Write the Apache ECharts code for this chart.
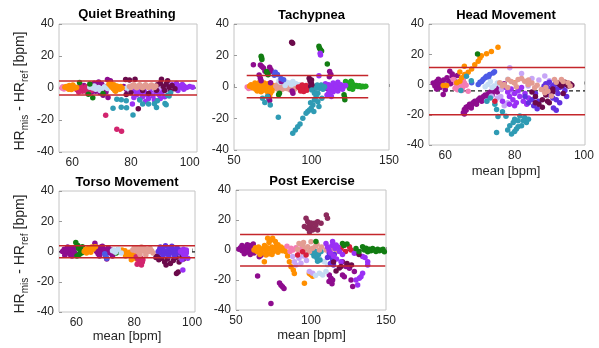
<!DOCTYPE html>
<html><head><meta charset="utf-8">
<script src="https://cdn.jsdelivr.net/npm/echarts@6/dist/echarts.min.js"></script>
<style>html,body{margin:0;padding:0;background:#fff}#c{width:599px;height:348px}</style>
</head><body><div id="c"></div>
<script>
const panelTitles = ['Quiet Breathing', 'Tachypnea', 'Head Movement', 'Torso Movement', 'Post Exercise'];
const xMin = [55.5, 50, 55.3, 54, 50];
const xMax = [102.5, 150, 100.3, 101, 150];
const xTicks = [[60, 80, 100], [50, 100, 150], [60, 80, 100], [60, 80, 100], [50, 100, 150]];
const yTicks = [-40, -20, 0, 20, 40];
const loaUpper = [4.4, 7.3, 11.2, 3.8, 10.4];
const loaLower = [-4.3, -6.9, -20.0, -4.1, -10.6];
const biasLine = [0.0, 0.2, -4.2, -0.2, -0.1];
const lineStart = [55.5, 58.2, 55.3, 54, 52.7];
const lineEnd = [102.5, 136.6, 100.3, 101, 149.5];

const subjectColors = {
  P: '#8E0C8E', O: '#FF8F00', C: '#D2246E', K: '#F47CB4', L: '#C4DCF4', T: '#2F9BB4',
  M: '#6B0A4B', W: '#8C2A5C', V: '#9A30F5', I: '#6230E0', B: '#4C5AE6', G: '#127D12',
  g: '#1FA51F', S: '#E39C92', A: '#C7A6F6', R: '#D81E3E'
};

const quietBreathing = [
 [57,0,'P'],[60.3,0.7,'P'],[66.5,2,'P'],[67.5,3,'P'],[68.5,1,'P'],[69,3.8,'P'],[70,2.5,'P'],[71,1,'P'],[72,5.3,'P'],[73,4.5,'P'],[70.5,-4.5,'P'],[72.2,-6,'P'],[68,-2,'P'],[69.5,-3,'P'],[71.5,-2.5,'P'],[66.6,-2.5,'P'],[67.5,-1,'P'],[77.5,1,'P'],[78.5,-1,'P'],[64,1.5,'P'],[62,0.5,'P'],
 [61,0,'C'],[61.5,-1,'C'],[62,-1.5,'C'],[62.5,0.5,'C'],[63,-1,'C'],[63.5,-2,'C'],[64,-0.5,'C'],[64.5,-1.5,'C'],[65,-2.5,'C'],[65.5,-1,'C'],[66,0,'C'],[66.5,-1.5,'C'],[63,1,'C'],[64.8,0.8,'C'],[62.2,-2.5,'C'],[71.4,-17,'C'],[75.2,-25.8,'C'],[76.8,-27,'C'],
 [56.5,0,'K'],[57.2,-0.6,'K'],[56.8,0.8,'K'],
 [66,0.5,'L'],[67,0,'L'],[68,-0.8,'L'],[69,0.3,'L'],[70,-0.5,'L'],[71,0.8,'L'],[72,-0.3,'L'],[67.5,1.2,'L'],[69.5,-1.5,'L'],[78.5,0,'L'],[79.5,-1,'L'],
 [57.5,0.5,'O'],[58,1,'O'],[58.5,0,'O'],[59,1.5,'O'],[59.5,0.5,'O'],[60,-0.5,'O'],[60.5,1,'O'],[61,0,'O'],[58.8,-0.8,'O'],[60.2,1.8,'O'],[61.5,0.3,'O'],[59.7,-1,'O'],
 [72.5,2.5,'O'],[73,1.5,'O'],[73.5,0.5,'O'],[74,-0.5,'O'],[74.5,-1.5,'O'],[75,-1,'O'],[75.5,0,'O'],[76,0.5,'O'],[76.5,1,'O'],[77,0,'O'],[73.2,3,'O'],[74.2,2,'O'],[75.2,1.2,'O'],[76.2,-0.8,'O'],[74.8,-2,'O'],
 [62.5,3.4,'G'],[65.5,-3.9,'G'],[67,-6.1,'G'],[70.5,-3.5,'G'],[66,2.5,'G'],
 [80.5,-1,'V'],[81.5,-2,'V'],[82.5,-1.5,'V'],[83.5,-3,'V'],[84.5,-2,'V'],[85.5,-4,'V'],[86.5,-3,'V'],[87.5,-5,'V'],[88.5,-2.5,'V'],[89.5,-4,'V'],[90.5,-3,'V'],[91.5,-5.5,'V'],[82,-4,'V'],[84,-5.5,'V'],[86,-6.5,'V'],[88,-7.5,'V'],[90,-6.5,'V'],[81,-6,'V'],[83,-7,'V'],[85,-8.5,'V'],[87,-1,'V'],[89,-1,'V'],[91,-0.5,'V'],[92.5,0.5,'V'],[80.5,-10,'V'],
 [93,1,'V'],[94,2,'V'],[95,0.5,'V'],[96,1.5,'V'],[97,0.5,'V'],[98,1.2,'V'],[99,0.3,'V'],[100,1,'V'],[101,0.5,'V'],[95.5,2.8,'V'],[97.5,2.2,'V'],[93.5,-1,'V'],[96,-1.5,'V'],[98,-0.8,'V'],
 [86,0.5,'A'],[88,-0.5,'A'],[90,0.8,'A'],[92,-1,'A'],[94,-0.5,'A'],
 [78.2,5.3,'M'],[79.5,5,'M'],[81.4,5.5,'M'],[78.4,-4,'M'],[80,-3,'M'],[89,2,'M'],[90,3,'M'],[91,1,'M'],[92,2.5,'M'],[93,0.5,'M'],[94,1.5,'M'],[95,-0.5,'M'],[91.5,-1.5,'M'],[93.5,-2,'M'],[90.4,5.4,'M'],[92.5,4.5,'M'],[84,-1.5,'M'],[86,-3.5,'M'],[88.7,-1.4,'M'],[82.5,-12.9,'M'],
 [79.5,1,'S'],[80.5,1.5,'S'],[81.5,0.8,'S'],[82.5,1.3,'S'],[83.5,0.7,'S'],[84.5,1.2,'S'],[85.5,0.8,'S'],[86.5,1.3,'S'],[87.5,0.7,'S'],[88.5,1.2,'S'],[80,0.3,'S'],[82,0.2,'S'],[84,0.2,'S'],[86,0.3,'S'],[88,0.3,'S'],[81,2,'S'],[83,2,'S'],[85,2,'S'],[87,1.9,'S'],
 [75.2,-7,'T'],[76.7,-7.3,'T'],[73.9,-12.6,'T'],[76.7,-12,'T'],[78.5,-12.3,'T'],[80.7,-16.8,'T'],[78.4,-8,'T'],[83,-7.5,'T'],[84,-10,'T'],[88,-9.8,'T'],[89,-8,'T'],[91.6,-9.7,'T'],[92.5,-4.5,'T'],[92,-10.5,'T'],[93,-5,'T'],[88.7,-12.2,'T'],[86,-10,'T'],[93.5,-3,'T']
];

const tachypnea = [
 [58.5,0,'K'],[59.5,-1,'K'],[60.5,1,'K'],[61.5,-0.5,'K'],[62,0.5,'K'],
 [60,0.5,'O'],[61,1.5,'O'],[62,-0.5,'O'],[63,1,'O'],[64,-1.5,'O'],[65,0.5,'O'],[66,-1,'O'],[67,1.5,'O'],[68,0,'O'],[69,-2,'O'],[70,1,'O'],[71,-0.5,'O'],[72,2,'O'],[73,0,'O'],[74,-1,'O'],[75,1,'O'],[76,-0.5,'O'],[77,0.5,'O'],[63.5,2.5,'O'],[66.5,3,'O'],[69.5,2.5,'O'],[71.5,-3,'O'],[73.5,-4,'O'],[67.5,-3,'O'],[65,-2.5,'O'],[70,-1.5,'O'],[72,-5.5,'O'],[73,-6,'O'],[74.5,-2.5,'O'],
 [77,0.5,'S'],[78,1.5,'S'],[79,-0.5,'S'],[80,1,'S'],[81,-1.5,'S'],[82,0.5,'S'],[83,2,'S'],[84,-1,'S'],[85,0.5,'S'],[86,1.5,'S'],[87,-0.5,'S'],[88,1,'S'],[89,-1.5,'S'],[90,0.5,'S'],[91,0,'S'],[80,-2,'S'],[84,2.5,'S'],[88,-2.3,'S'],[82,-1,'S'],[86,-1.8,'S'],[79.5,2.2,'S'],[78,-1.2,'S'],
 [80,3,'L'],[82,4,'L'],[84,3,'L'],[86,2.5,'L'],[88,3.5,'L'],[90,2,'L'],[92,1.5,'L'],[83,1,'L'],[87,1.5,'L'],[79,3.8,'L'],
 [91.5,0,'R'],[92.5,-1,'R'],[93.5,0.5,'R'],[94.5,-1.5,'R'],[95.5,-0.5,'R'],[96.5,1,'R'],[97.5,-1,'R'],[98.5,0,'R'],[93,-2.5,'R'],[95,-2.8,'R'],[97,-2,'R'],[94,1.3,'R'],
 [98.5,5.5,'M'],[99,4,'M'],[99.5,3,'M'],[100,2,'M'],[100.5,1,'M'],[101,0,'M'],[101.5,-0.8,'M'],[99.5,0.5,'M'],[100,4.5,'M'],[87.2,28.4,'M'],[87.8,27.7,'M'],
 [62.5,14.2,'P'],[67,14,'P'],[68,13,'P'],[69,12,'P'],[70,10,'P'],[66.2,7.6,'P'],[67,5.5,'P'],[67.5,4,'P'],[72,-6,'P'],[72.5,-7.5,'P'],[73,-8.5,'P'],[73,12.5,'P'],[73.8,11,'P'],[74,10,'P'],[73.6,2.7,'P'],[80.5,3.5,'P'],[88,-4,'P'],[87.5,-2.5,'P'],[111.7,9.8,'P'],[112.5,8,'P'],[111.5,6.5,'P'],[109,0.5,'P'],[110,-1,'P'],
 [67.5,19.5,'G'],[67.8,18.5,'G'],[68,17.5,'G'],[71,9.9,'G'],[71.5,8.8,'G'],[72,7.7,'G'],[78.8,-4.9,'G'],[79.3,-4,'G'],[104.8,25.8,'G'],[105.2,24.6,'G'],[105.8,23.7,'G'],[106.5,22.8,'G'],[110.2,14.6,'G'],[121,-4.9,'G'],[121.3,-6.5,'G'],[121.5,-8.1,'G'],
 [123,1,'g'],[124,2.5,'g'],[125,0,'g'],[126,3,'g'],[127,1.5,'g'],[128,0.5,'g'],[129,1,'g'],[130,0.3,'g'],[131,0.8,'g'],[132,0,'g'],[133,0.5,'g'],[134,0.2,'g'],[135,0.4,'g'],[124.5,-1,'g'],[126.5,-1.5,'g'],[122,3.5,'g'],[125.5,3.7,'g'],
 [106,1,'V'],[107,-1,'V'],[108,0.5,'V'],[109,2,'V'],[110,-0.5,'V'],[111,1.5,'V'],[112,-2,'V'],[113,0.5,'V'],[114,2.5,'V'],[115,-1,'V'],[116,1,'V'],[117,3,'V'],[118,-0.5,'V'],[119,1.5,'V'],[120,-1.5,'V'],[121,0.5,'V'],[122,1,'V'],[114,-3,'V'],[117,-2.5,'V'],[105.8,20.3,'V'],[105.6,21.5,'V'],[104.8,7.2,'V'],[112.8,-6,'V'],[110,-5,'V'],[111,-4,'V'],
 [76.6,9.3,'B'],[78,8,'B'],[80.3,5.4,'B'],[82,4.6,'B'],[76,7.5,'B'],
 [87.9,-29.4,'T'],[89.6,-27.3,'T'],[91.1,-25.2,'T'],[92.6,-23.5,'T'],[94.4,-19.9,'T'],[96.5,-16.7,'T'],[97.6,-15.6,'T'],[98.7,-14.6,'T'],[99.8,-13.5,'T'],[100.9,-11.4,'T'],[101.9,-8.2,'T'],[103,-6.1,'T'],[104.1,-4,'T'],[105.2,-0.8,'T'],[106.3,1.3,'T'],[107.4,-1.5,'T'],[104.1,-9.3,'T'],[106.7,-7.2,'T'],[101.9,-4,'T'],[103,-0.8,'T'],[103.7,1.3,'T'],[108.4,0.2,'T'],[100.2,-1.9,'T'],[101.5,-15.6,'T'],[99.4,-10,'T'],[104.8,-12.4,'T'],
 [71.6,-6.1,'T'],[69.9,-9.9,'T'],[73.4,-11.4,'T'],[68.4,-7.2,'T'],[78.6,-19.2,'T']
];

const headMovement = [
 [56.5,1,'P'],[57,-1,'P'],[57.5,2,'P'],[58,0,'P'],[58.5,-2,'P'],[59,1.5,'P'],[59.5,3,'P'],[60,-1,'P'],[60.5,4.5,'P'],[61,2,'P'],[61.5,0.5,'P'],[62,5.5,'P'],[62.5,3,'P'],[63,1,'P'],[58,3.5,'P'],[59.4,-6.6,'P'],[61.3,8.7,'P'],[62,7,'P'],[63.5,6,'P'],[60,-3.5,'P'],[57.5,-3,'P'],
 [65.2,-18.6,'P'],[65.5,-16.5,'P'],[66,-15,'P'],[66.5,-14.5,'P'],[67,-13,'P'],[67.5,-14,'P'],[68,-12,'P'],[68.5,-11,'P'],[69,-11.5,'P'],[69.5,-10,'P'],[70,-9,'P'],[70.5,-9.5,'P'],[71,-8,'P'],[71.5,-7,'P'],[72,-7.5,'P'],[72.5,-6,'P'],[73,-5,'P'],[73.5,-5.5,'P'],[74,-4,'P'],[74.5,-3,'P'],[75,-3.5,'P'],[75.5,-2,'P'],[76,-1,'P'],[76.5,-1.5,'P'],[77,0.5,'P'],[66,-17,'P'],[67.5,-15.5,'P'],[69,-13,'P'],[70.5,-11,'P'],[72,-9,'P'],[73.5,-7,'P'],[75,-5,'P'],[65.5,-19.5,'P'],
 [62.3,3.3,'K'],[63,1,'K'],[63.5,-1,'K'],[64,2,'K'],[64.5,0,'K'],[65,-2,'K'],[65.5,1,'K'],[66,-0.5,'K'],[66.6,-4.4,'K'],[63.5,-3.5,'K'],[64.8,-4,'K'],[62.8,-2.5,'K'],[65.2,3,'K'],
 [75.2,24.7,'O'],[73.3,21.9,'O'],[71.9,20.3,'O'],[70.4,19,'O'],[70,17.5,'O'],[69.5,15.3,'O'],[68.5,13.1,'O'],[67.6,10.3,'O'],[66.6,8.1,'O'],[65.6,6.6,'O'],[64.7,4.4,'O'],[64.2,2.2,'O'],[63.3,1.1,'O'],[60.4,-0.6,'O'],[59.4,-0.6,'O'],[80,1.1,'O'],[65.5,12,'O'],[64.2,8.3,'O'],
 [69.3,20.1,'G'],
 [67.6,1.1,'B'],[69.5,0,'B'],[70,1.5,'B'],[70.9,3.3,'B'],[71.9,5.5,'B'],[72.8,6.6,'B'],[73.8,7.6,'B'],[74.2,8.5,'B'],[71.5,4.5,'B'],[72.5,5,'B'],[70.5,2,'B'],
 [72.3,0,'L'],[73,2,'L'],[74,-1,'L'],[75,1,'L'],[76,-0.5,'L'],[73.5,-2,'L'],[71.5,-1.5,'L'],[78,3.5,'L'],
 [78.6,11,'A'],[82,7.2,'A'],[71.9,-10.9,'A'],[73.3,-7.7,'A'],[76.2,-3.3,'A'],[83.9,-1,'A'],[88.7,5.7,'A'],[89.6,0,'A'],[76,-8,'A'],[78,-12,'A'],[79,-6,'A'],[85,4,'A'],[87,3,'A'],[90,2.5,'A'],[75,-9,'A'],[77,-14,'A'],[81,-5,'A'],[86,-10,'A'],
 [77.5,-2,'V'],[78,-5,'V'],[78.5,-8,'V'],[79,-3,'V'],[79.5,-10,'V'],[80,-6,'V'],[80.5,-12,'V'],[81,-4,'V'],[81.5,-8,'V'],[82,-2,'V'],[82.5,-11,'V'],[83,-6,'V'],[83.5,-13,'V'],[84,-9,'V'],[80,-14,'V'],[78.5,-13,'V'],[76.5,-11,'V'],
 [83,-8,'I'],[84,-12,'I'],[85,-10,'I'],[85.5,-14,'I'],[86,-6,'I'],[86.5,-16,'I'],[87,-11,'I'],[88,-3,'I'],[88.5,-1,'I'],[89,0.5,'I'],[89.5,-2,'I'],[90,1.5,'I'],[90.5,-4,'I'],[91,-1,'I'],[91.5,0,'I'],[92,-3,'I'],[92.5,-6,'I'],[93,-2,'I'],[93.5,1,'I'],[94,-1,'I'],[94.5,-4,'I'],[95,-8,'I'],[92,-10,'I'],[93,-12,'I'],[90,-7,'I'],[91,-9,'I'],[91.2,-15.5,'I'],[92,-17,'I'],
 [85,-5,'M'],[86,-8,'M'],[87,-13,'M'],[88,-10,'M'],[89,-7,'M'],[90,-12,'M'],[91,-5,'M'],[92.5,1,'M'],[93,0,'M'],[93.5,-1,'M'],[94,0.5,'M'],[94.5,1.5,'M'],[95,0,'M'],[95.5,-1,'M'],[96,0.5,'M'],[96.5,-0.5,'M'],[88,-15,'M'],[86,-12,'M'],[89.5,-11,'M'],[94,-6,'M'],[91,-3,'M'],
 [75.7,1.1,'S'],[78.1,3.3,'S'],[81,3.3,'S'],[82.9,2.2,'S'],[83.9,0,'S'],[85.8,-2.2,'S'],[87.7,-3.3,'S'],[89.6,-4.4,'S'],[91.5,3.3,'S'],[93.5,3.3,'S'],[95.4,1.1,'S'],[88.7,-5.5,'S'],[90.6,-7.6,'S'],[76.5,-1,'S'],[77,0,'S'],[79,2,'S'],[80,1,'S'],[82,4,'S'],[84,3,'S'],[85,1,'S'],[86.5,-0.5,'S'],[89,-2,'S'],[92,1.5,'S'],[94,2,'S'],[96,-1,'S'],[78,-2,'S'],[80.5,-1.5,'S'],
 [66.1,5.5,'T'],[67.5,2.5,'T'],[64.5,-4,'T'],[74.3,-13,'T'],[74.8,-16.5,'T'],[75.2,-21.2,'T'],[74.8,-31.7,'T'],[78.6,-27.3,'T'],[79.6,-25.1,'T'],[80,-22.9,'T'],[81,-24,'T'],[81.5,-20.8,'T'],[82,-27.3,'T'],[80.5,-29.5,'T'],[79.1,-32.8,'T'],[82.9,-21.9,'T'],[83.4,-25.1,'T'],[78,-30,'T'],[80,-31,'T'],[81,-28,'T'],[82.5,-24,'T'],[84,-23,'T'],[76.5,-18,'T'],[77.5,-21,'T'],[73,-9,'T'],[72,-11,'T'],
 [74.3,-11,'R']
];

const torsoMovement = [
 [55.2,0,'P'],[55.8,1.5,'P'],[56.3,-1,'P'],[56.8,2,'P'],[57.3,0.5,'P'],[57.8,-2,'P'],[58.3,1,'P'],[58.8,-0.5,'P'],[59.3,2,'P'],[59.7,-1.5,'P'],[56,-2.5,'P'],[57,3,'P'],[58.5,-3,'P'],[56.5,0.5,'P'],[58,2.5,'P'],[59,0,'P'],
 [66.4,5.4,'P'],[66.5,2,'P'],[67,0,'P'],[67.5,-1.5,'P'],[68,1,'P'],[68.5,3,'P'],[69,-0.5,'P'],[69.5,1.5,'P'],[70,-2.5,'P'],[70.5,0.5,'P'],[71,2.5,'P'],[71.5,-1,'P'],[72,1,'P'],[72.5,-3,'P'],[68,-3,'P'],[70.5,-5,'P'],[69,3.5,'P'],[67,3,'P'],
 [59.8,6,'G'],[60.5,4,'G'],[60.8,2,'G'],[61.4,0,'G'],[61,-2,'G'],[62.1,3.2,'G'],[60.2,-3,'G'],[61.8,-1,'G'],[74.3,1,'G'],[73.8,-1,'G'],[75,0.5,'G'],
 [62.7,0,'O'],[63.2,1.5,'O'],[63.8,0.5,'O'],[64.3,2.5,'O'],[64.8,1,'O'],[65.3,3,'O'],[65.8,1.5,'O'],[66.3,2.8,'O'],[63.5,-1,'O'],[65,-0.5,'O'],[66.6,3.2,'O'],
 [75.8,1,'O'],[76.3,-0.5,'O'],[76.8,0.5,'O'],[77.3,-1.5,'O'],[77.8,-2,'O'],[78.3,-0.5,'O'],[78.8,-3,'O'],[79.3,-2,'O'],[79.8,-4,'O'],[80.3,-1,'O'],[80.8,-5,'O'],[81.3,-3,'O'],[81.8,-6.5,'O'],[77,-3,'O'],[79,-5.5,'O'],[80,-2.5,'O'],
 [70.2,-3.4,'B'],[70.5,-4.5,'B'],[69.8,-1.5,'B'],
 [73,1,'L'],[73.5,-0.5,'L'],[74.5,1.5,'L'],[75.5,-1,'L'],[72.5,0.5,'L'],
 [80.7,-3.4,'C'],[81.2,-5,'C'],[81.8,-6.5,'C'],[82.3,-4.5,'C'],[82.8,-7,'C'],[81,-8.5,'C'],[82.5,-9,'C'],[83,-5.5,'C'],
 [79.5,1,'S'],[80,2.5,'S'],[80.5,0.5,'S'],[81,2,'S'],[81.5,-0.5,'S'],[82,1.5,'S'],[82.5,3,'S'],[83,0.5,'S'],[83.5,2,'S'],[84,-0.5,'S'],[84.5,1.5,'S'],[85,0,'S'],[85.5,2,'S'],[86,0.5,'S'],[86.5,-1,'S'],[82,-2,'S'],[84,-2.3,'S'],
 [87.5,-4,'M'],[88.5,-5.5,'M'],[89.5,-4.5,'M'],[90.5,-7,'M'],[91.5,-5,'M'],[92.5,-8,'M'],[93.5,-6,'M'],[94.5,-4,'M'],[95.5,-7,'M'],[96.5,-3.5,'M'],[94.6,-14.5,'M'],[95.2,-13.5,'M'],[88,-3,'M'],[91,-9,'M'],[97,-5,'M'],[97.5,-3,'M'],
 [88.3,0,'I'],[88.8,1.5,'I'],[89.3,-1,'I'],[89.8,2,'I'],[90.3,0.5,'I'],[90.8,3.8,'I'],[91.3,-1.5,'I'],[91.8,1,'I'],[92.3,2.5,'I'],[92.8,-0.5,'I'],[93.3,1.5,'I'],[93.8,-2,'I'],[94.3,0.5,'I'],[94.8,2.5,'I'],[95.3,-1,'I'],[95.7,1,'I'],[90,-2.5,'I'],[92,-3,'I'],[94,-3,'I'],[89,3,'I'],[93,3.5,'I'],
 [96.8,-12.2,'V'],[97,-2,'V'],[97.5,-3.5,'V'],[96.5,-5.5,'V'],[98,-1,'V'],[98.5,-4.5,'V'],[96,0,'V'],[97,1.5,'V'],[96.5,0.5,'V'],[97.5,-1,'V'],[98,1,'V']
];

const postExercise = [
 [52,0.5,'P'],[53,1.5,'P'],[54,-0.5,'P'],[55,2,'P'],[56,0,'P'],[57,-1.5,'P'],[58,1,'P'],[59,3,'P'],[60,-0.5,'P'],[61,1.5,'P'],[62,-2,'P'],[63,0.5,'P'],[55.5,-2.5,'P'],[57.5,3.5,'P'],[59.5,-3,'P'],[61.5,4,'P'],[58,-1,'P'],[54,3,'P'],[65.5,-4.5,'P'],[66.7,-3.5,'P'],
 [64.4,-17.3,'P'],[73.3,-35.6,'P'],[79,-22,'P'],[80,-23.5,'P'],[81,-24.5,'P'],[82,-25.6,'P'],
 [121,-7.8,'P'],[123.3,-11,'P'],[125.6,-12.2,'P'],[128.9,-14.4,'P'],[126.7,-20,'P'],[127.8,-24.4,'P'],[112.2,-16.7,'P'],[113.3,-18.9,'P'],[114.4,-20,'P'],[121,-16.7,'P'],[122.2,-17.8,'P'],[112,-21,'P'],[114,-22.5,'P'],
 [62,0,'O'],[63,1.5,'O'],[64,-1,'O'],[65,2,'O'],[66,0.5,'O'],[67,-2,'O'],[68,1,'O'],[69,3,'O'],[70,-0.5,'O'],[71,1.5,'O'],[72,-2.5,'O'],[73,0.5,'O'],[74,2,'O'],[75,-1,'O'],[76,1,'O'],[77,3,'O'],[78,-1.5,'O'],[79,0.5,'O'],[80,2,'O'],[81,-0.5,'O'],[82,1,'O'],[66,-3,'O'],[70,-3.3,'O'],[74,-3,'O'],[78,3.5,'O'],
 [68.9,-7.8,'O'],[71.1,7.8,'O'],[73.3,6.7,'O'],[74.4,7.8,'O'],[76.2,5.6,'O'],[72,5,'O'],[83.3,-1.1,'O'],[84.4,-4,'O'],[85.6,-7.8,'O'],[86.7,-11.1,'O'],[88.2,-13.3,'O'],[88.9,-15.6,'O'],[95.6,-22.2,'O'],[98.9,-15.6,'O'],[100,-16.5,'O'],[101.1,-17.5,'O'],
 [96.7,21.1,'W'],[97.8,18.9,'W'],[98.9,16.7,'W'],[100,15.6,'W'],[101.1,13.3,'W'],[102.2,14.4,'W'],[103.3,16.7,'W'],[104.4,18.9,'W'],[102.2,17.8,'W'],[97.8,14.4,'W'],[95.6,15.6,'W'],[110.2,23.3,'W'],[111,21.1,'W'],[106.7,17.8,'W'],[104.4,13.3,'W'],[99,12,'W'],[100,18,'W'],
 [86.7,1.1,'K'],[88,0,'K'],[90,1.5,'K'],[92,-0.5,'K'],[94,2,'K'],[86,-1,'K'],[84,2.5,'K'],
 [87.8,-4.4,'A'],[88.9,-7.8,'A'],[90,-10,'A'],[93.3,-8.9,'A'],[98.9,-14.4,'A'],[101.1,-15.5,'A'],[92,-5.5,'A'],[95,-4,'A'],[97,-7,'A'],
 [105.6,-15.5,'L'],[107.8,-16.7,'L'],[110,-14.4,'L'],[105.6,-5.6,'L'],[108.9,-7.8,'L'],[111.1,-10,'L'],[103,-17,'L'],[104,-3,'L'],[96,-3,'L'],[98,-2,'L'],[102,-1,'L'],
 [100,0,'T'],[101,-2,'T'],[102,-4,'T'],[103,-1,'T'],[104,-5.5,'T'],[105,-3,'T'],[106,-6.7,'T'],[104.4,-7.5,'T'],[101.5,1,'T'],[106.7,-1,'T'],
 [92,4.4,'S'],[94.4,3.3,'S'],[97.8,2.2,'S'],[101,1.1,'S'],[105.6,0,'S'],[110,0,'S'],[114.4,1.1,'S'],[116.7,-1.1,'S'],[118.9,0,'S'],[91,0.5,'S'],[96,0.5,'S'],[99,-1,'S'],[103,2.5,'S'],[107,2,'S'],[112,-0.5,'S'],[120,1.5,'S'],[95,5,'S'],[100,5.5,'S'],[104,3.8,'S'],
 [91.1,-3.3,'R'],[94.4,-1.1,'R'],[96.7,-3.3,'R'],[125.6,2.2,'R'],[126.7,0,'R'],[120,1,'R'],[123,-1,'R'],
 [112.2,-2.2,'I'],[113.3,-4.4,'I'],[114.4,-6.7,'I'],[115.5,-3,'I'],[111,-5,'I'],[113,-9,'I'],[115,-10,'I'],
 [110,4.4,'V'],[111,2,'V'],[112,0,'V'],[113,-2,'V'],[114,3,'V'],[115,-4,'V'],[116,1,'V'],[117,-6,'V'],[118,2,'V'],[119,-1,'V'],[120,-7.8,'V'],[121,-3,'V'],[114.4,5.6,'V'],[116.7,3.3,'V'],[128.9,-2.2,'V'],[134.4,-4.4,'V'],[137.8,-7.8,'V'],[137.8,-10,'V'],[134.4,-15.5,'V'],[133.3,-17.8,'V'],[132.2,-18.9,'V'],[131.1,-23.3,'V'],[130,-20,'V'],[136,-5,'V'],
 [115,-8,'M'],[116.7,-14,'M'],[118.9,-12,'M'],[120,-11,'M'],[124,-9,'M'],[127,-10,'M'],[132,-3,'M'],
 [134.4,2.2,'G'],[135.6,0,'G'],[136.7,1.1,'G'],[137.8,-1.1,'G'],[138.9,0.5,'G'],[140,-0.5,'G'],[141.1,1,'G'],[142.2,0,'G'],[143.3,-1,'G'],[144.4,0.5,'G'],[145.6,-0.5,'G'],[146.7,0,'G'],[148,0.5,'G'],[148.9,-1.1,'G'],[103.3,5.6,'G'],[121,4.4,'G'],[122,3,'G'],[124,4,'G'],[132,-1,'G'],[130,1,'G']
];

const panels = [quietBreathing, tachypnea, headMovement, torsoMovement, postExercise];
const gridBoxes = [
  {left: 59, top: 24, width: 138, height: 128},
  {left: 234, top: 24, width: 155, height: 126},
  {left: 429, top: 24, width: 156, height: 121},
  {left: 59, top: 191, width: 136, height: 121},
  {left: 236, top: 190, width: 150, height: 120}
];
const FONT = '"Liberation Sans", Arial, Helvetica, sans-serif';

const grid = gridBoxes.map(b => Object.assign({show: true, borderColor: '#c4c4c4', borderWidth: 1, containLabel: false}, b));
const xAxis = panels.map((_, i) => ({
  type: 'value', gridIndex: i, min: xMin[i], max: xMax[i],
  axisLine: {show: false},
  axisTick: {show: true, inside: true, length: 3, customValues: xTicks[i], lineStyle: {color: '#9a9a9a'}},
  axisLabel: {customValues: xTicks[i], color: '#262626', fontSize: 12, fontFamily: FONT, margin: 5, showMinLabel: true, showMaxLabel: true},
  splitLine: {show: false}
}));
const yAxis = panels.map((_, i) => ({
  type: 'value', gridIndex: i, min: -40, max: 40,
  axisLine: {show: false},
  axisTick: {show: true, inside: true, length: 3, customValues: yTicks, lineStyle: {color: '#9a9a9a'}},
  axisLabel: {customValues: yTicks, color: '#262626', fontSize: 12, fontFamily: FONT, margin: 5, showMinLabel: true, showMaxLabel: true},
  splitLine: {show: false}
}));

const series = [];
panels.forEach((pts, i) => {
  series.push({
    type: 'line', xAxisIndex: i, yAxisIndex: i, silent: true, z: 1, symbol: 'none',
    data: [[lineStart[i], biasLine[i]], [lineEnd[i], biasLine[i]]],
    lineStyle: {color: '#1a1a1a', width: 1.2, type: [4, 3]}
  });
  const order = [];
  const groups = {};
  pts.forEach(p => {
    if (!groups[p[2]]) { groups[p[2]] = []; order.push(p[2]); }
    groups[p[2]].push([p[0], p[1]]);
  });
  order.forEach(k => series.push({
    type: 'scatter', xAxisIndex: i, yAxisIndex: i, silent: true, z: 2,
    data: groups[k], symbolSize: 5.5,
    itemStyle: {color: subjectColors[k], opacity: 1}
  }));
  [loaUpper[i], loaLower[i]].forEach(v => series.push({
    type: 'line', xAxisIndex: i, yAxisIndex: i, silent: true, z: 3, symbol: 'none',
    data: [[lineStart[i], v], [lineEnd[i], v]],
    lineStyle: {color: '#C4262B', width: 1.5}
  }));
});

const titlePos = [[127, 14], [311.5, 15], [506, 15], [127, 182], [312, 181]];
const xNamePos = [[506, 171], [127, 336], [311.5, 335]];
const yNamePos = [[20, 91], [20, 254]];
const graphic = [];
panelTitles.forEach((t, i) => graphic.push({
  type: 'text', x: titlePos[i][0], y: titlePos[i][1], silent: true,
  style: {text: t, fill: '#000', font: 'bold 13px ' + FONT, textAlign: 'center', textVerticalAlign: 'middle'}
}));
xNamePos.forEach(p => graphic.push({
  type: 'text', x: p[0], y: p[1], silent: true,
  style: {text: 'mean [bpm]', fill: '#262626', font: '13px ' + FONT, textAlign: 'center', textVerticalAlign: 'middle'}
}));
yNamePos.forEach(p => graphic.push({
  type: 'text', x: p[0], y: p[1], rotation: Math.PI / 2, silent: true,
  style: {
    text: '{a|HR}{s|mis}{a| - HR}{s|ref}{a| [bpm]}',
    align: 'center', verticalAlign: 'middle',
    rich: {
      a: {fontSize: 14, fontFamily: FONT, fill: '#262626', lineHeight: 20},
      s: {fontSize: 10, fontFamily: FONT, fill: '#262626', lineHeight: 20, verticalAlign: 'bottom'}
    }
  }
}));

const chart = echarts.init(document.getElementById('c'), null, {renderer: 'canvas'});
chart.setOption({
  animation: false,
  backgroundColor: '#fff',
  grid, xAxis, yAxis, series, graphic
});
</script></body></html>
